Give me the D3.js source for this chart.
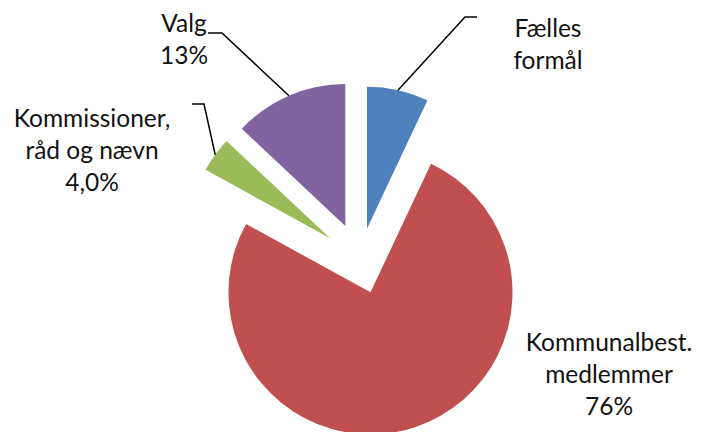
<!DOCTYPE html>
<html>
<head>
<meta charset="utf-8">
<script src="https://cdn.jsdelivr.net/npm/d3@7"></script>
<style>
  html, body { margin: 0; padding: 0; background: #fff; }
  svg { display: block; }
  text { font-family: Lato, "Open Sans", sans-serif; fill: #111; }
</style>
</head>
<body>
<svg id="chart" width="707" height="432"></svg>
<script>
// ---- data ----
const categories = ["Fælles formål", "Kommunalbest. medlemmer", "Kommissioner, råd og nævn", "Valg"];
const values = [7, 76, 4, 13];
const labelLines = [["Fælles", "formål"], ["Kommunalbest.", "medlemmer"], ["Kommissioner,", "råd og nævn"], ["Valg"]];
const percentLabels = ["", "76%", "4,0%", "13%"];
const colors = ["#4F81BD", "#C0504D", "#9BBB59", "#8064A2"];

// ---- layout / style ----
const W = 707, H = 432;
const center = [360, 260];
const radius = 142;
const explode = [32, 34, 37, 37];
const fontSize = 24.5, lineH = 32;
// label anchor (x center, first baseline) and leader elbow points
const labelPos = [[548, 37], [609, 351], [92, 127], [184, 32]];
const leaders = [
  [[465, 17], [477, 17]],
  null,
  [[204, 104], [192, 104]],
  [[222, 33], [208, 33]]
];

const svg = d3.select("#chart");
const pie = d3.pie().sort(null).value(d => d)(values);
const arc = d3.arc().innerRadius(0).outerRadius(radius);
const edgeArc = d3.arc().innerRadius(radius).outerRadius(radius);

const g = svg.append("g").attr("transform", `translate(${center[0]},${center[1]})`);

pie.forEach((p, i) => {
  const mid = (p.startAngle + p.endAngle) / 2;
  const dx = explode[i] * Math.sin(mid), dy = -explode[i] * Math.cos(mid);
  g.append("path")
    .attr("d", arc(p))
    .attr("transform", `translate(${dx},${dy})`)
    .attr("fill", colors[i]);

  if (leaders[i]) {
    const c = edgeArc.centroid(p);
    const start = [center[0] + dx + c[0], center[1] + dy + c[1]];
    const pts = [start].concat(leaders[i]);
    svg.append("path")
      .attr("d", d3.line()(pts))
      .attr("fill", "none")
      .attr("stroke", "#000")
      .attr("stroke-width", 1.5);
  }
});

labelLines.forEach((lines, i) => {
  const all = percentLabels[i] ? lines.concat([percentLabels[i]]) : lines;
  const t = svg.append("text")
    .attr("text-anchor", "middle")
    .attr("font-size", fontSize);
  all.forEach((s, k) => {
    t.append("tspan")
      .attr("x", labelPos[i][0])
      .attr("y", labelPos[i][1] + k * lineH)
      .text(s);
  });
});
</script>
</body>
</html>
